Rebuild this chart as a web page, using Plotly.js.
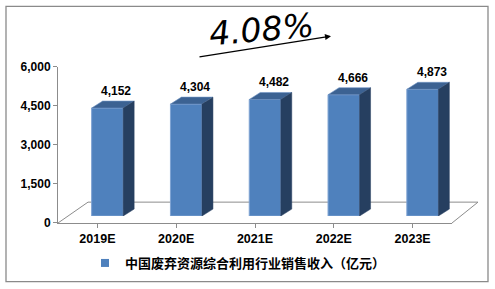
<!DOCTYPE html>
<html><head><meta charset="utf-8">
<script src="https://cdn.plot.ly/plotly-3.0.1.min.js"></script>
<style>html,body{margin:0;padding:0;background:#fff}#chart{width:495px;height:289px}</style>
</head><body><div id="chart"></div>
<script>
// ---- data ----
const categories = ['2019E', '2020E', '2021E', '2022E', '2023E'];
const values = [4152, 4304, 4482, 4666, 4873];
const yTickVals = [0, 1500, 3000, 4500, 6000];
const seriesName = '中国废弃资源综合利用行业销售收入（亿元）';
const growthText = '4.08%';

// ---- geometry (pixels) ----
const FIG_W = 495, FIG_H = 289;
const PL = 58, PT = 60, PR = 462, PB = 224;   // paper area
const PW = PR - PL, PH = PB - PT;
const AX_W = 394, AX_H = 157;                  // visible axis size
const OFF_X = 10, OFF_Y = 7;                   // bars set back into the floor
const DEP_X = 11, DEP_Y = 7;                   // bar depth
const Y_MAX = 6000;
const BAR_W = 0.4;
const barPx = BAR_W * AX_W / categories.length;
const depY = DEP_Y * Y_MAX / AX_H;
const fx = p => (p - PL) / PW;
const fy = p => (PB - p) / PH;

const frontColor = '#4F81BD', topColor = '#3C6292', sideColor = '#263F60';
const labelFont = {family: 'Liberation Sans, Arial, sans-serif', size: 12, color: '#000', weight: 'bold'};

const idx = categories.map((c, i) => i);

const traces = [
  {
    type: 'bar', x: idx, y: values, xaxis: 'x2', yaxis: 'y2', width: BAR_W,
    marker: {color: frontColor, line: {color: '#7FA3D3', width: 1}},
    showlegend: false, hoverinfo: 'skip'
  },
  {
    type: 'scatter', mode: 'markers', x: [null], y: [null], name: seriesName,
    marker: {symbol: 'square', size: 8, color: frontColor}, showlegend: true
  }
];

const shapes = [];
// floor (decoration)
const gray = '#8C8C8C';
shapes.push({type: 'line', xref: 'paper', yref: 'paper', x0: fx(58), y0: fy(224), x1: fx(88), y1: fy(203), line: {color: gray, width: 1}, layer: 'below'});
shapes.push({type: 'line', xref: 'paper', yref: 'paper', x0: fx(88), y0: fy(203), x1: fx(478), y1: fy(203), line: {color: gray, width: 1}, layer: 'below'});
shapes.push({type: 'line', xref: 'paper', yref: 'paper', x0: fx(452), y0: fy(224), x1: fx(478), y1: fy(203), line: {color: gray, width: 1}, layer: 'below'});
// outer border
shapes.push({type: 'rect', xref: 'paper', yref: 'paper', x0: fx(6), y0: fy(283), x1: fx(488), y1: fy(6), line: {color: '#8A8A8A', width: 1.3}, layer: 'below'});

// 3D faces of bars, anchored on data
values.forEach((v, i) => {
  shapes.push({
    type: 'path', xref: 'x2', yref: 'y2', xsizemode: 'pixel', ysizemode: 'pixel',
    xanchor: i - BAR_W / 2, yanchor: v,
    path: `M0,0 L${DEP_X},${DEP_Y} L${barPx + DEP_X},${DEP_Y} L${barPx},0 Z`,
    fillcolor: topColor, line: {color: '#6F93C4', width: 0.6}
  });
  shapes.push({
    type: 'path', xref: 'x2', yref: 'y2', xsizemode: 'pixel',
    xanchor: i + BAR_W / 2,
    path: `M0,0 L${DEP_X},${depY} L${DEP_X},${v + depY} L0,${v} Z`,
    fillcolor: sideColor, line: {color: sideColor, width: 0.5}
  });
});

const annotations = values.map((v, i) => ({
  xref: 'x2', yref: 'y2', x: i, y: v, text: v.toLocaleString('en-US'),
  showarrow: false, xshift: 9, yshift: 17, yanchor: 'middle', font: labelFont
}));
// growth rate text and arrow
annotations.push({
  xref: 'paper', yref: 'paper', x: fx(261), y: fy(29), text: growthText,
  showarrow: false, textangle: -5, xanchor: 'center', yanchor: 'middle',
  font: {family: 'DejaVu Sans, sans-serif', size: 33, style: 'italic', color: '#000'}
});
annotations.push({
  xref: 'paper', yref: 'paper', x: fx(331), y: fy(36), text: '',
  showarrow: true, axref: 'pixel', ayref: 'pixel', ax: -133, ay: 21,
  arrowhead: 2, arrowsize: 1, arrowwidth: 1.2, arrowcolor: '#000', standoff: 0
});

const layout = {
  width: FIG_W, height: FIG_H,
  margin: {l: PL, r: FIG_W - PR, t: PT, b: FIG_H - PB},
  paper_bgcolor: '#fff', plot_bgcolor: 'rgba(0,0,0,0)',
  xaxis: {
    domain: [0, AX_W / PW], range: [-0.5, categories.length - 0.5],
    tickmode: 'array', tickvals: idx, ticktext: categories,
    showgrid: false, zeroline: false, showline: true, linecolor: gray, linewidth: 1,
    ticks: 'outside', tickson: 'boundaries', ticklen: 4, tickcolor: gray,
    tickfont: {family: 'Liberation Sans, Arial, sans-serif', size: 12.5, color: '#000', weight: 'bold'},
    fixedrange: true
  },
  yaxis: {
    domain: [0, AX_H / PH], range: [0, Y_MAX],
    tickmode: 'array', tickvals: yTickVals, tickformat: ',d',
    showgrid: false, zeroline: false, showline: true, linecolor: gray, linewidth: 1,
    ticks: 'outside', ticklen: 4, tickcolor: gray,
    tickfont: labelFont, fixedrange: true
  },
  xaxis2: {
    domain: [OFF_X / PW, 1], range: [-0.5, categories.length - 0.5], anchor: 'y2',
    visible: false, fixedrange: true
  },
  yaxis2: {
    domain: [OFF_Y / PH, 1], range: [0, Y_MAX], anchor: 'x2',
    visible: false, fixedrange: true
  },
  showlegend: true,
  legend: {
    orientation: 'h', x: fx(85), xanchor: 'left', y: fy(263), yanchor: 'middle',
    font: {family: 'Noto Sans CJK SC, sans-serif', size: 13, color: '#000', weight: 'bold'},
    bgcolor: 'rgba(0,0,0,0)'
  },
  shapes: shapes, annotations: annotations,
  bargap: 0
};

Plotly.newPlot('chart', traces, layout, {displayModeBar: false, staticPlot: true});
</script></body></html>
